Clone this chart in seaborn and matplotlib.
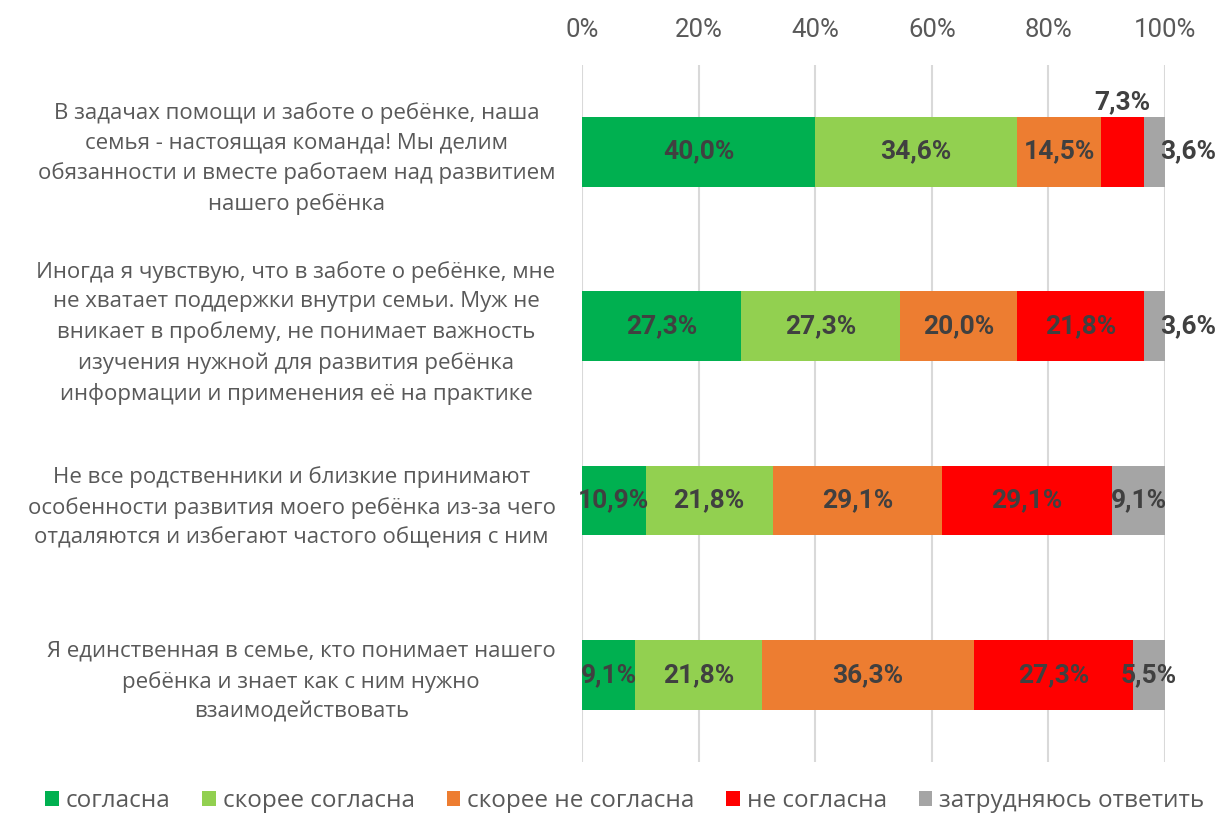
import matplotlib
matplotlib.use("Agg")
import matplotlib.pyplot as plt
import seaborn as sns
import pandas as pd
import numpy as np

categories = [
    "В задачах помощи и заботе о ребёнке, наша\nсемья - настоящая команда! Мы делим\nобязанности и вместе работаем над развитием\nнашего ребёнка",
    "Иногда я чувствую, что в заботе о ребёнке, мне\nне хватает поддержки внутри семьи. Муж не\nвникает в проблему, не понимает важность\nизучения нужной для развития ребёнка\nинформации и применения её на практике",
    "Не все родственники и близкие принимают\nособенности развития моего ребёнка из-за чего\nотдаляются и избегают частого общения с ним",
    "Я единственная в семье, кто понимает нашего\nребёнка и знает как с ним нужно\nвзаимодействовать",
]
series_names = ["согласна", "скорее согласна", "скорее не согласна", "не согласна", "затрудняюсь ответить"]
agree = [40.0, 27.3, 10.9, 9.1]
rather_agree = [34.6, 27.3, 21.8, 21.8]
rather_disagree = [14.5, 20.0, 29.1, 36.3]
disagree = [7.3, 21.8, 29.1, 27.3]
hard_to_say = [3.6, 3.6, 9.1, 5.5]
colors = ["#00B050", "#92D050", "#ED7D31", "#FF0000", "#A5A5A5"]
xticks = [0, 20, 40, 60, 80, 100]

sns.set_theme(style="white")
plt.rcParams["font.family"] = ["Open Sans", "DejaVu Sans"]

values = np.array([agree, rather_agree, rather_disagree, disagree, hard_to_say])
cum = np.cumsum(values, axis=0)

fig = plt.figure(figsize=(12.2, 8.14), dpi=100)
ax = fig.add_axes([582 / 1220, 1 - 762 / 814, (1165 - 582) / 1220, (762 - 64.5) / 814])

ids = list(range(len(categories)))
for k in range(len(series_names) - 1, -1, -1):
    df = pd.DataFrame({"cat": ids, "val": cum[k]})
    sns.barplot(data=df, x="val", y="cat", orient="h", color=colors[k], width=0.4,
                saturation=1, ax=ax, label=series_names[k], linewidth=0, zorder=3)

handles, labels = ax.get_legend_handles_labels()
if ax.get_legend() is not None:
    ax.get_legend().remove()

ax.set_xlim(0, 100)
ax.set_ylim(3.5, -0.5)
ax.xaxis.tick_top()
ax.set_xticks(xticks)
ax.set_xticklabels([f"{t}%" for t in xticks], fontsize=18.5, color="#595959",
                   family=["Roboto", "DejaVu Sans"])
ax.tick_params(axis="x", length=0, pad=16)
ax.set_yticks(ids)
ax.set_yticklabels(categories, fontsize=16, color="#595959", multialignment="center",
                   linespacing=1.53)
ax.tick_params(axis="y", length=0, pad=19)
ax.set_xlabel("")
ax.set_ylabel("")
for s in ax.spines.values():
    s.set_visible(False)
ax.grid(axis="x", color="#D9D9D9", linewidth=1.5, zorder=0)
ax.grid(axis="y", visible=False)
ax.set_axisbelow(True)

# data labels
for k in range(len(series_names)):
    for i in ids:
        v = values[k][i]
        start = cum[k][i] - v
        x = start + v / 2
        y = i
        if k == 3 and i == 0:
            y = i - 0.285
        if k == 4 and i in (0, 1):
            x += 5.7
        ax.text(x, y, f"{v:.1f}".replace(".", ",") + "%", ha="center", va="center",
                fontsize=19, fontweight="bold", color="#404040",
                family=["Roboto", "DejaVu Sans"], zorder=5, clip_on=False)

handles, labels = handles[::-1], labels[::-1]
leg = fig.legend(handles, labels, loc="center", bbox_to_anchor=(625 / 1220, 1 - 801 / 814),
                 ncol=5, frameon=False, fontsize=17.5, handlelength=0.55, handleheight=0.55,
                 handletextpad=0.3, columnspacing=1.3)
for t in leg.get_texts():
    t.set_color("#595959")

fig.savefig("out.png", dpi=100)
